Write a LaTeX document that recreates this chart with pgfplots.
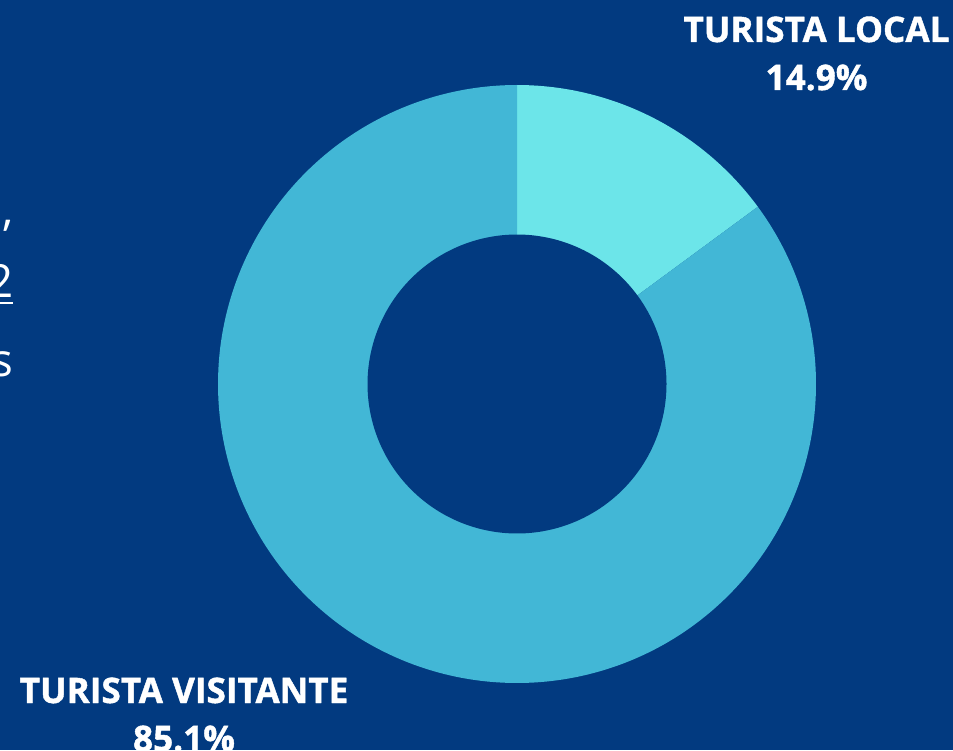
\documentclass[border=0pt]{standalone}
\usepackage{pgfplots}
\pgfplotsset{compat=1.18}
\usepackage{pgfplotstable}
\usepackage{fontspec}
\setmainfont{Open Sans}
\newfontfamily\heavy{Open Sans}[UprightFont=* Bold, FakeBold=1.2]

\definecolor{bg}{RGB}{2,58,128}
\definecolor{clocal}{RGB}{108,229,233}
\definecolor{cvisit}{RGB}{66,183,214}

\pgfplotstableread{
label value
local 14.9
visit 85.1
}\shares

\begin{document}
\begin{tikzpicture}[x=0.1mm,y=0.1mm]
\pgfplotstablegetelem{0}{value}\of\shares
\pgfmathsetmacro{\amid}{90-3.6*\pgfplotsretval}
\useasboundingbox (0,0) rectangle (953,750);
\fill[bg] (0,0) rectangle (953,750);
\begin{axis}[
  at={(0,0)}, anchor=south west,
  x=29.9mm, y=29.9mm,
  xmin=-1.72910, xmax=1.45819,
  ymin=-1.22408, ymax=1.28428,
  hide axis, clip=false,
]
\addplot[draw=none, fill=clocal, domain=\amid:90, samples=80] ({cos(x)},{sin(x)}) -- (axis cs:0,0) -- cycle;
\addplot[draw=none, fill=cvisit, domain=-270:\amid, samples=300] ({cos(x)},{sin(x)}) -- (axis cs:0,0) -- cycle;
\addplot[draw=none, fill=bg, domain=0:360, samples=200] ({0.5*cos(x)},{0.5*sin(x)}) -- cycle;
\end{axis}
\begin{scope}[every node/.style={text=white, inner sep=0pt}]
\node[anchor=base, font=\heavy\fontsize{10}{12}\selectfont] at (816.5,708) {TURISTA LOCAL};
\node[anchor=base, font=\heavy\fontsize{10}{12}\selectfont] at (816.5,660) {14.9\%};
\node[anchor=base, font=\heavy\fontsize{10}{12}\selectfont] at (184,47) {TURISTA VISITANTE};
\node[anchor=base, font=\heavy\fontsize{10}{12}\selectfont] at (184,-1) {85.1\%};
\node[anchor=base east, font=\fontsize{13}{15}\selectfont] at (14,524) {,};
\node[anchor=base east, font=\fontsize{13}{15}\selectfont] at (14,452) {\underline{2}};
\node[anchor=base east, font=\fontsize{13}{15}\selectfont] at (14,373) {s};
\end{scope}
\end{tikzpicture}
\end{document}
